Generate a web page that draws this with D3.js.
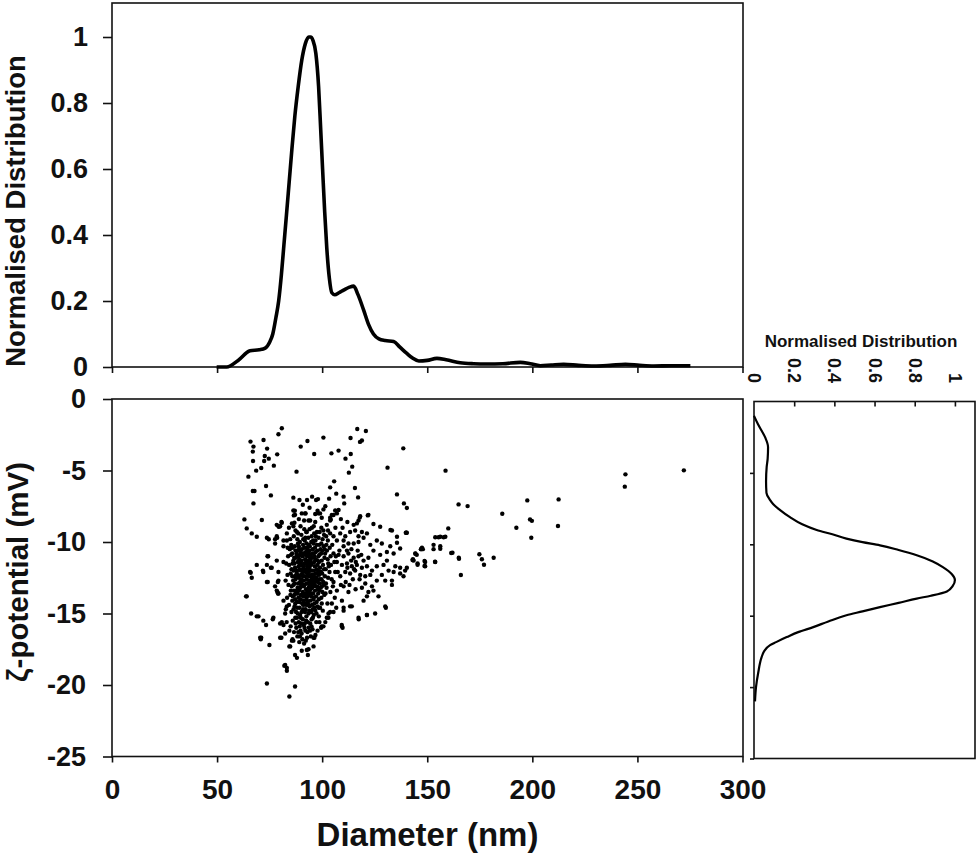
<!DOCTYPE html>
<html>
<head>
<meta charset="utf-8">
<script src="https://cdn.jsdelivr.net/npm/d3@7"></script>
<style>
  html, body { margin: 0; padding: 0; background: #fff; }
  svg { display: block; font-family: "Liberation Sans", Arial, sans-serif; }
</style>
</head>
<body>
<script>
// ---------- DATA ----------
// Size distribution (top panel)
const sizeDiameter = [49.8,54.6,60,65.7,70,72.9,75,76.5,78,79.3,80.6,81.8,83,84.3,85.6,87,88.6,90.3,92,93.6,94.5,95.6,97,98.3,99.3,100.2,101.2,102.2,103.4,104.6,106,108,110.2,113,115,117,119.7,122,124.4,127,130,134,137,140.3,143,146,150,154.6,159,165.7,172,178.4,186,194.3,199,203.8,209,214.9,222,229.2,237,244.3,251,257.8,266,275.2];
const sizeDist = [0,0,0.02,0.049,0.052,0.057,0.075,0.1,0.15,0.2,0.28,0.37,0.46,0.56,0.66,0.76,0.85,0.93,0.98,1.0,1.0,0.99,0.95,0.85,0.72,0.6,0.47,0.36,0.27,0.225,0.219,0.225,0.233,0.242,0.245,0.22,0.173,0.13,0.1,0.085,0.08,0.077,0.06,0.041,0.027,0.018,0.02,0.026,0.022,0.013,0.01,0.009,0.01,0.014,0.01,0.004,0.006,0.008,0.005,0.003,0.005,0.008,0.005,0.003,0.004,0.004];

// Zeta distribution (right panel)
const zetaPot = [-1.0,-1.6,-2.5,-3.2,-4.0,-4.6,-5.6,-6.4,-6.9,-7.2,-7.6,-8.1,-8.6,-9.0,-9.3,-9.6,-9.85,-10.07,-10.4,-10.77,-11.2,-11.6,-12.1,-12.5,-12.9,-13.3,-13.6,-13.8,-14.1,-14.4,-14.7,-14.97,-15.4,-15.8,-16.15,-16.5,-16.85,-17.06,-17.5,-17.9,-19.0,-20.0,-21.0];
const zetaDist = [0,0.02,0.055,0.07,0.068,0.063,0.06,0.062,0.08,0.096,0.13,0.179,0.24,0.312,0.39,0.46,0.54,0.627,0.72,0.81,0.89,0.94,0.985,1.0,0.99,0.96,0.88,0.81,0.72,0.627,0.54,0.46,0.37,0.295,0.22,0.163,0.11,0.08,0.05,0.038,0.021,0.01,0.005];

// Scatter: [diameter nm, zeta mV]
const scatterPoints = [
 // sparse upper region
 [80.8,-2.05],[79.2,-2.47],[65.9,-2.98],[72.1,-2.87],[67.3,-3.33],[67.0,-3.68],[73.8,-3.47],[78.6,-3.87],[67.1,-4.34],[72.7,-3.99],
 [74.6,-4.17],[72.4,-4.34],[71.0,-4.83],[68.6,-5.01],[77.0,-4.66],[64.9,-5.43],[67.0,-6.43],[67.8,-6.43],[67.3,-7.3],[73.3,-6.08],
 [75.6,-6.74],[63.0,-8.42],[64.1,-9.05],[71.3,-8.46],[66.5,-9.4],[68.9,-9.63],[74.6,-9.81],[78.6,-9.7],[79.4,-8.93],[80.6,-8.6],
 [87.8,-5.08],[89.8,-3.33],[93.0,-2.94],[100.6,-2.7],[96.2,-3.85],[104.4,-3.8],[107.8,-3.61],[113.5,-2.73],[116.7,-2.1],[120.8,-2.24],
 [118.0,-3.0],[118.9,-2.9],[113.6,-3.85],[111.1,-4.17],[114.3,-4.73],[112.7,-5.15],[138.6,-3.45],[131.1,-4.8],[158.7,-5.01],[105.7,-5.76],
 [103.8,-6.18],[106.7,-6.62],[110.2,-6.83],[103.3,-6.97],[115.6,-6.22],[117.1,-6.88],[135.6,-6.67],[138.9,-7.3],[140.3,-7.62],[89.2,-7.06],
 [92.8,-7.06],[95.2,-6.83],[97.1,-7.06],[87.0,-7.81],[86.5,-8.14],[92.1,-8.0],[96.7,-8.04],[97.8,-7.81],[100.6,-7.72],[105.4,-8.11],
 [107.8,-7.76],[121.7,-8.14],[117.9,-8.28],[104.1,-8.42],[86.8,-8.65],[124.4,-8.74],[127.6,-8.93],[132.5,-9.16],[139.8,-9.35],[135.6,-9.63],
 [160.0,-9.05],[156.2,-9.63],[158.6,-9.63],[86.3,-6.9],[99.0,-8.0],[93.5,-8.5],
 [88.9,-8.4],[90.8,-7.4],[94.0,-7.6],[98.0,-7.0],[101.5,-7.5],[102.8,-9.2],[106.3,-9.0],[108.9,-8.4],[110.5,-7.3],[96.0,-8.9],
 [99.6,-9.0],[91.5,-9.1],[84.2,-9.0],[109.7,-9.0],[112.0,-8.6],
 // far right sparse
 [244.3,-5.27],[244.0,-6.13],[272.1,-4.99],[164.9,-7.37],[169.2,-7.49],[197.6,-7.09],[212.5,-7.02],[185.7,-8.02],[192.4,-9.0],[198.9,-8.42],
 [199.8,-8.52],[199.5,-9.7],[212.2,-8.88],[157.8,-9.67],[155.4,-9.67],[153.8,-9.67],[153.0,-10.2],[153.0,-10.5],[156.2,-10.47],[161.4,-10.77],
 [165.1,-11.17],[166.0,-12.31],[153.7,-11.38],[174.8,-10.86],[176.0,-11.21],[177.0,-11.59],[181.6,-11.1],[147.1,-10.5],[144.4,-10.82],[143.0,-11.26],
 [145.4,-11.59],[148.7,-11.33],[148.7,-11.68],[140.0,-9.35],[147.5,-10.4],[145.0,-10.9],[143.5,-11.3],[149.0,-11.4],[153.8,-11.4],[140.3,-11.8],
 [137.1,-12.2],[133.2,-13.0],[130.0,-12.7],[138.7,-12.4],[134.8,-11.7],[130.8,-11.3],[162.0,-10.75],[165.0,-11.1],[156.2,-10.3],[147.9,-10.5],
 // left sparse and lower tails
 [77.6,-10.1],[77.6,-9.8],[80.0,-8.9],[80.8,-8.65],[78.4,-8.8],[81.6,-9.9],[74.0,-11.0],[68.9,-11.6],[71.8,-12.0],[66.0,-12.15],
 [66.5,-12.5],[73.7,-12.8],[76.0,-11.8],[79.2,-12.1],[79.2,-12.7],[78.4,-13.4],[78.7,-13.5],[63.8,-13.8],[81.6,-11.4],[66.2,-15.0],
 [68.9,-15.2],[73.3,-15.8],[76.5,-15.4],[80.0,-15.7],[81.6,-15.8],[71.0,-16.7],[74.9,-17.2],[80.0,-16.7],[84.4,-17.3],[85.6,-16.9],
 [82.0,-18.65],[83.2,-18.8],[92.7,-17.55],[93.2,-17.9],[95.9,-16.7],[87.1,-17.9],[88.0,-18.1],[99.8,-15.9],[102.2,-15.3],[110.2,-14.6],
 [109.3,-15.8],[109.7,-16.0],[117.3,-15.3],[73.7,-19.9],[87.1,-20.1],[84.4,-20.8],[70.8,-16.8],[80.6,-16.7],[95.9,-17.3],[96.3,-16.7],
 [93.5,-17.5],[69.7,-15.2],[80.8,-15.6],[64.1,-13.8],[65.7,-12.1],[75.6,-11.8],[74.3,-11.0],[74.1,-12.8],[78.9,-12.8],[79.0,-13.6],
 [100.6,-15.9],[103.8,-14.9],[117.4,-15.4],[121.3,-15.1],[125.2,-15.0],[130.3,-14.6],[114.1,-14.5],[105.4,-14.9],[103.0,-15.3],[79.2,-8.9],
 [78.4,-9.6],[83.2,-9.9],[81.6,-10.3],[84.8,-10.4],[73.7,-9.7],[72.0,-12.1],[79.2,-13.6],[73.7,-11.6],[78.4,-11.3],[77.6,-13.1],
 [72.0,-15.5],[76.8,-15.3],[82.4,-15.0],[83.2,-14.5],[81.6,-14.1],[70.5,-16.7],[84.8,-17.3],[86.3,-16.9],[82.4,-16.4],[82.4,-18.6],[83.2,-19.0],
 // above the core
 [86.3,-7.8],[87.1,-8.1],[90.3,-8.0],[91.9,-8.0],[94.3,-8.5],[96.7,-8.6],[98.2,-8.0],[99.8,-8.3],[102.2,-8.8],[103.8,-8.5],
 [107.0,-8.0],[104.6,-8.1],[85.6,-8.7],[86.3,-8.9],[83.2,-9.4],[88.0,-9.3],[92.7,-9.3],[97.5,-9.3],[95.1,-9.0],[100.6,-9.2],
 [103.8,-9.4],[105.4,-9.6],[108.6,-9.4],[110.2,-9.9],[113.3,-9.3],[115.7,-9.2],[117.3,-9.6],[115.0,-10.1],[111.8,-10.6],
 // right of core
 [106.2,-7.8],[103.8,-8.3],[118.1,-8.2],[122.0,-8.1],[115.0,-8.8],[116.5,-8.7],[117.3,-8.5],[133.2,-9.2],[140.3,-9.35],[107.0,-9.9],
 [111.0,-9.6],[118.9,-9.3],[119.7,-9.7],[121.3,-9.4],[117.3,-10.0],[112.5,-10.1],[110.2,-10.3],[126.0,-9.9],[128.4,-10.1],[132.4,-10.3],
 [135.6,-10.05],[137.1,-10.45],[134.0,-10.8],[130.8,-10.7],[124.4,-10.6],[127.6,-10.9],[122.9,-10.2],[144.3,-10.8],[147.0,-10.5],[143.2,-11.2],
 [145.4,-11.5],[149.0,-11.7],[105.4,-10.8],[107.8,-10.9],[110.2,-11.0],[112.5,-10.8],[115.0,-11.1],[117.3,-11.0],[119.7,-11.3],[122.0,-11.1],
 [107.0,-11.4],[109.4,-11.6],[111.8,-11.5],[114.1,-11.7],[116.5,-11.6],[118.9,-11.8],[121.3,-11.7],[123.7,-12.0],[111.0,-12.1],[113.3,-12.2],
 [115.7,-12.0],[118.1,-12.3],[120.5,-12.4],[122.9,-12.3],[106.2,-12.1],[108.6,-12.4],[126.0,-11.7],[129.2,-11.6],[131.6,-12.0],[134.0,-12.1],
 [137.1,-11.8],[139.5,-12.0],[128.4,-12.3],[126.0,-12.7],[133.2,-12.7],[120.5,-12.9],[123.7,-13.1],[118.9,-13.2],[122.0,-13.5],[124.4,-13.4],
 [110.2,-13.1],[112.5,-13.5],[107.0,-13.4],[105.4,-12.8],[109.4,-14.1],[113.3,-14.5],[119.7,-14.1],[121.3,-13.8],[126.8,-13.8],[130.0,-14.5],
 [110.2,-14.8],[121.3,-15.1],[109.4,-15.9],[104.6,-14.3],[113.8,-11.3],[115.2,-11.9],[116.0,-11.4],[114.6,-12.6],[117.8,-12.6],[112.0,-11.8],
 [116.9,-10.6],[113.9,-10.5],[118.6,-10.9],[111.2,-12.8],[115.9,-13.3],[113.0,-13.0],
 // dense core
 [86.5,-9.6],[88.2,-9.8],[90.1,-9.5],[91.7,-9.9],[93.4,-9.7],[95.0,-9.6],[96.8,-9.9],[98.3,-9.7],[100.2,-9.8],[101.9,-9.6],
 [89.4,-10.0],[92.6,-10.1],[94.8,-10.0],[97.5,-10.2],[99.6,-10.1],[85.3,-10.2],[84.6,-10.5],[86.0,-10.4],[87.3,-10.6],[88.9,-10.3],
 [90.3,-10.5],[91.5,-10.4],[92.8,-10.6],[94.1,-10.3],[95.4,-10.5],[96.6,-10.4],[97.9,-10.6],[99.2,-10.5],[100.7,-10.3],[102.3,-10.6],
 [103.6,-10.4],[89.6,-10.7],[93.5,-10.8],[96.0,-10.8],[98.7,-10.9],[101.4,-10.8],[83.8,-11.0],[85.2,-10.9],[86.7,-11.1],[87.9,-10.9],
 [89.1,-11.2],[90.6,-11.0],[91.9,-11.2],[93.0,-11.0],[94.4,-11.3],[95.6,-11.1],[97.0,-11.2],[98.2,-11.0],[99.8,-11.3],[101.1,-11.1],
 [102.6,-11.2],[104.0,-11.0],[88.4,-11.4],[92.5,-11.5],[95.1,-11.5],[97.8,-11.6],[100.4,-11.6],[84.3,-11.6],[85.9,-11.5],[87.1,-11.8],
 [88.8,-11.7],[90.2,-11.6],[91.4,-11.9],[92.9,-11.7],[94.0,-11.8],[95.3,-12.0],[96.5,-11.7],[97.4,-11.9],[99.0,-11.8],[101.7,-11.9],
 [103.2,-11.7],[86.4,-12.0],[89.7,-12.0],[93.6,-12.1],[96.9,-12.2],[100.0,-12.2],[83.5,-12.3],[85.0,-12.2],[87.6,-12.3],[88.9,-12.5],
 [90.4,-12.3],[91.8,-12.4],[92.7,-12.6],[94.6,-12.4],[95.9,-12.6],[97.3,-12.5],[98.5,-12.3],[99.7,-12.6],[101.3,-12.4],[102.8,-12.5],
 [86.2,-12.7],[89.5,-12.8],[93.3,-12.9],[96.2,-12.8],[98.9,-12.9],[84.0,-13.0],[85.5,-13.1],[87.0,-12.9],[88.3,-13.2],[90.0,-13.0],
 [91.2,-13.1],[92.3,-13.3],[94.2,-13.0],[95.2,-13.2],[97.6,-13.1],[99.3,-13.2],[100.8,-13.0],[102.1,-13.2],[86.6,-13.4],[90.8,-13.5],
 [93.9,-13.5],[96.6,-13.4],[98.1,-13.6],[84.9,-13.7],[87.5,-13.6],[88.7,-13.9],[89.9,-13.7],[91.6,-13.8],[92.6,-14.0],[94.7,-13.8],
 [95.8,-14.0],[97.1,-13.8],[99.6,-13.9],[101.0,-13.7],[85.8,-14.1],[88.0,-14.2],[90.5,-14.3],[93.2,-14.2],[96.3,-14.3],[84.2,-14.4],
 [86.9,-14.5],[89.2,-14.6],[91.0,-14.4],[92.1,-14.7],[94.0,-14.5],[95.5,-14.7],[97.8,-14.5],[99.0,-14.6],[85.4,-14.9],[88.4,-15.0],
 [90.2,-14.9],[93.5,-15.0],[96.0,-15.1],[87.2,-15.3],[86.0,-15.5],[88.9,-15.6],[90.8,-15.4],[92.4,-15.5],[94.3,-15.7],[97.2,-15.6],
 [85.0,-15.9],[87.7,-16.0],[89.7,-16.2],[91.6,-16.0],[93.0,-16.3],[95.4,-16.1],[88.2,-16.6],[90.6,-16.8],[92.2,-16.9],
 [89.9,-11.4],[91.1,-11.7],[92.0,-10.9],[93.8,-11.5],[94.9,-12.3],[96.1,-12.0],[91.3,-12.7],[90.1,-12.6],[92.2,-12.1],[93.1,-13.6],
 [94.5,-13.3],[95.7,-13.6],[89.0,-13.4],[91.9,-14.3],[90.6,-11.9],[88.0,-12.0],[87.8,-10.8],[94.6,-10.9],[93.0,-10.4],[95.7,-9.9],
 [91.0,-9.8],[88.6,-9.4],[92.4,-9.3],[94.0,-9.1],[96.2,-9.4],[98.8,-9.3],[100.9,-9.5],[102.7,-9.9],[104.8,-10.2],[105.8,-11.4],
 [104.5,-12.6],[103.9,-13.5],[102.5,-14.3],[100.3,-14.8],[98.4,-15.2],[99.5,-16.0],[96.8,-16.5],[94.6,-16.6],[85.9,-16.8],[84.4,-16.2],
 [83.1,-15.6],[82.7,-14.7],[83.3,-13.9],[82.6,-12.7],[82.9,-11.5],[83.6,-10.4],[84.8,-9.8],[87.3,-9.2],[89.7,-8.9],[91.4,-8.5],
 [85.7,-10.8],[87.0,-10.3],[88.5,-10.1],[90.9,-10.2],[92.0,-9.7],[93.9,-10.6],[95.9,-10.1],[97.0,-9.6],[98.6,-10.2],[100.0,-10.6],
 [86.3,-11.3],[87.5,-11.1],[89.5,-10.9],[91.2,-10.8],[93.3,-11.3],[94.7,-11.6],[96.2,-11.4],[98.5,-11.4],[99.5,-10.8],[101.2,-10.5],
 [85.4,-11.9],[87.9,-12.1],[89.2,-11.9],[90.8,-12.1],[92.3,-11.3],[93.7,-12.4],[95.1,-12.8],[96.7,-12.5],[98.0,-12.0],[99.4,-12.1],
 [85.8,-12.4],[87.3,-12.6],[88.6,-12.9],[90.3,-12.9],[91.6,-13.0],[93.1,-12.3],[94.4,-12.7],[95.6,-12.3],[97.9,-12.8],[100.5,-12.8],
 [85.1,-13.4],[86.3,-13.0],[87.8,-13.4],[89.6,-13.2],[91.0,-13.8],[92.8,-13.4],[94.1,-13.7],[95.7,-13.0],[96.9,-13.1],[98.6,-13.4],
 [86.0,-13.8],[87.1,-14.0],[88.3,-13.6],[89.8,-14.0],[91.3,-14.1],[92.9,-13.8],[94.4,-14.1],[95.2,-14.4],[97.4,-14.2],[98.4,-14.0],
 [86.4,-14.7],[87.6,-14.9],[89.5,-15.1],[90.9,-14.7],[92.5,-15.2],[93.8,-14.8],[95.0,-15.4],[96.7,-14.8],[91.7,-15.7],[89.3,-15.9],
 [87.4,-15.7],[93.6,-16.0],[90.2,-16.4],[92.0,-16.2],[88.6,-16.3],[94.9,-15.9],[86.6,-16.3],[91.4,-17.1],[89.1,-17.0],[90.3,-17.6],
 [101.8,-12.9],[102.9,-11.5],[103.5,-12.1],[101.6,-13.6],[100.1,-13.5],[99.8,-14.3],[100.9,-11.9],[102.0,-10.2],[104.2,-11.6],[105.1,-13.1],
 [106.5,-11.0],[107.4,-12.1],[106.0,-13.9],[108.2,-10.6],[108.9,-13.0],[103.0,-15.0],[101.5,-15.6],[97.8,-16.2],[98.7,-15.6],[106.7,-14.6],
 [88.1,-10.6],[89.0,-10.5],[90.7,-10.8],[92.3,-10.7],[93.6,-10.2],[95.2,-10.8],[96.9,-10.7],[97.9,-11.3],[96.3,-11.0],[94.2,-11.1],
 [92.7,-11.9],[91.6,-11.5],[89.5,-11.6],[88.3,-12.3],[89.9,-12.3],[91.0,-12.4],[92.6,-12.9],[93.9,-12.8],[95.0,-12.5],[96.4,-13.0],
 [97.1,-12.7],[98.0,-13.3],[96.0,-13.9],[94.9,-13.6],[93.6,-13.2],[92.0,-13.6],[90.4,-13.7],[89.2,-14.2],[90.9,-14.3],[92.4,-14.4],
 [93.6,-14.4],[94.8,-14.9],[96.4,-14.6],[91.8,-14.9],[89.8,-15.3],[88.1,-14.6],[87.2,-14.3],[86.7,-13.7],[87.3,-12.4],[86.8,-11.5],
 [88.7,-11.0],[90.2,-11.3],[93.0,-11.6],[94.4,-12.0],[96.0,-12.3],[97.7,-12.2],[98.8,-12.6],[99.9,-13.1],[98.3,-14.6],[97.3,-15.0],
 [95.6,-15.3],[93.2,-15.6],[91.2,-15.8],[90.0,-15.7],[88.0,-15.3],[94.2,-16.2],[92.8,-16.7],[89.4,-16.6]
];

// Tick values
const diameterTicks = [0, 50, 100, 150, 200, 250, 300];
const topDistTicks = [0, 0.2, 0.4, 0.6, 0.8, 1];
const zetaTicks = [0, -5, -10, -15, -20, -25];
const rightDistTicks = [0, 0.2, 0.4, 0.6, 0.8, 1];

// ---------- CHART ----------
const W = 980, H = 862;
const svg = d3.select("body").append("svg").attr("width", W).attr("height", H);
const ink = "#111";

const x = d3.scaleLinear().domain([0, 300]).range([112, 742.5]);
const yTop = d3.scaleLinear().domain([0, 1.1]).range([367, 4]);
const yZ = d3.scaleLinear().domain([-25, 0]).range([756.5, 399]);
const xR = d3.scaleLinear().domain([0, 1.1]).range([754, 975]);
const yR = d3.scaleLinear().domain([-25, 0]).range([758.5, 401.5]);

function styleAxis(g, fs) {
  g.select(".domain").remove();
  g.selectAll(".tick line").attr("stroke", ink).attr("stroke-width", 1.6);
  g.selectAll(".tick text").attr("fill", ink).style("font-size", fs + "px").style("font-weight", "bold")
    .style("font-family", '"Liberation Sans", Arial, sans-serif');
}

// ---- Top panel ----
svg.append("g").attr("transform", "translate(112,0)")
  .call(d3.axisLeft(yTop).tickValues(topDistTicks).tickSize(9).tickPadding(15).tickFormat(d => String(d)))
  .call(g => styleAxis(g, 27));
svg.append("g").attr("transform", "translate(0,367)")
  .call(d3.axisBottom(x).tickValues(diameterTicks).tickSize(6).tickFormat(""))
  .call(g => styleAxis(g, 27));
svg.append("rect").attr("x", 112).attr("y", 3).attr("width", 631).attr("height", 364)
  .attr("fill", "none").attr("stroke", ink).attr("stroke-width", 1.6);

const topLine = d3.line().x((d, i) => x(sizeDiameter[i])).y((d, i) => yTop(sizeDist[i])).curve(d3.curveMonotoneX);
svg.append("path").datum(sizeDist).attr("d", topLine)
  .attr("fill", "none").attr("stroke", "#000").attr("stroke-width", 3.6).attr("stroke-linejoin", "round");

svg.append("text").attr("transform", "translate(25,211) rotate(-90)")
  .attr("text-anchor", "middle").style("font-size", "27.5px").style("font-weight", "bold").attr("fill", ink)
  .text("Normalised Distribution");

// ---- Scatter panel ----
svg.append("g").attr("transform", "translate(112,0)")
  .call(d3.axisLeft(yZ).tickValues(zetaTicks).tickSize(9).tickPadding(17).tickFormat(d => String(d)))
  .call(g => styleAxis(g, 27));
svg.append("g").attr("transform", "translate(0,756.5)")
  .call(d3.axisBottom(x).tickValues(diameterTicks).tickSize(6).tickPadding(17).tickFormat(d => String(d)))
  .call(g => styleAxis(g, 28));
svg.append("rect").attr("x", 112).attr("y", 399).attr("width", 631).attr("height", 357.5)
  .attr("fill", "none").attr("stroke", ink).attr("stroke-width", 1.6);

svg.append("g").selectAll("circle").data(scatterPoints).join("circle")
  .attr("cx", d => x(d[0])).attr("cy", d => yZ(d[1])).attr("r", 2.2).attr("fill", "#000");

svg.append("text").attr("transform", "translate(28,572) rotate(-90)")
  .attr("text-anchor", "middle").style("font-size", "29.5px").style("font-weight", "bold").attr("fill", ink)
  .text("ζ-potential (mV)");
svg.append("text").attr("x", 427.5).attr("y", 846)
  .attr("text-anchor", "middle").style("font-size", "33px").style("font-weight", "bold").attr("fill", ink)
  .text("Diameter (nm)");

// ---- Right panel ----
svg.append("g").attr("transform", "translate(754,0)")
  .call(d3.axisLeft(yR).tickValues([-5, -10, -15, -20, -25]).tickSize(4).tickFormat(""))
  .call(g => styleAxis(g, 18));
svg.append("g").attr("transform", "translate(0,401.5)")
  .call(d3.axisTop(xR).tickValues(rightDistTicks.slice(1)).tickSize(-5).tickFormat(""))
  .call(g => styleAxis(g, 18));
svg.append("rect").attr("x", 754).attr("y", 401.5).attr("width", 221).attr("height", 357)
  .attr("fill", "none").attr("stroke", ink).attr("stroke-width", 1.6);

svg.append("g").selectAll("text").data(rightDistTicks).join("text")
  .attr("transform", d => `translate(${xR(d)},383) rotate(90)`)
  .attr("text-anchor", "end").attr("dominant-baseline", "central")
  .style("font-size", "18px").style("font-weight", "bold").attr("fill", ink)
  .text(d => String(d));

svg.append("text").attr("x", 861).attr("y", 347)
  .attr("text-anchor", "middle").style("font-size", "17px").style("font-weight", "bold").attr("fill", ink)
  .text("Normalised Distribution");

const rightLine = d3.line().x((d, i) => xR(zetaDist[i])).y((d, i) => yR(zetaPot[i])).curve(d3.curveMonotoneY);
svg.append("path").datum(zetaDist).attr("d", rightLine)
  .attr("fill", "none").attr("stroke", "#000").attr("stroke-width", 2.2).attr("stroke-linejoin", "round");
</script>
</body>
</html>
